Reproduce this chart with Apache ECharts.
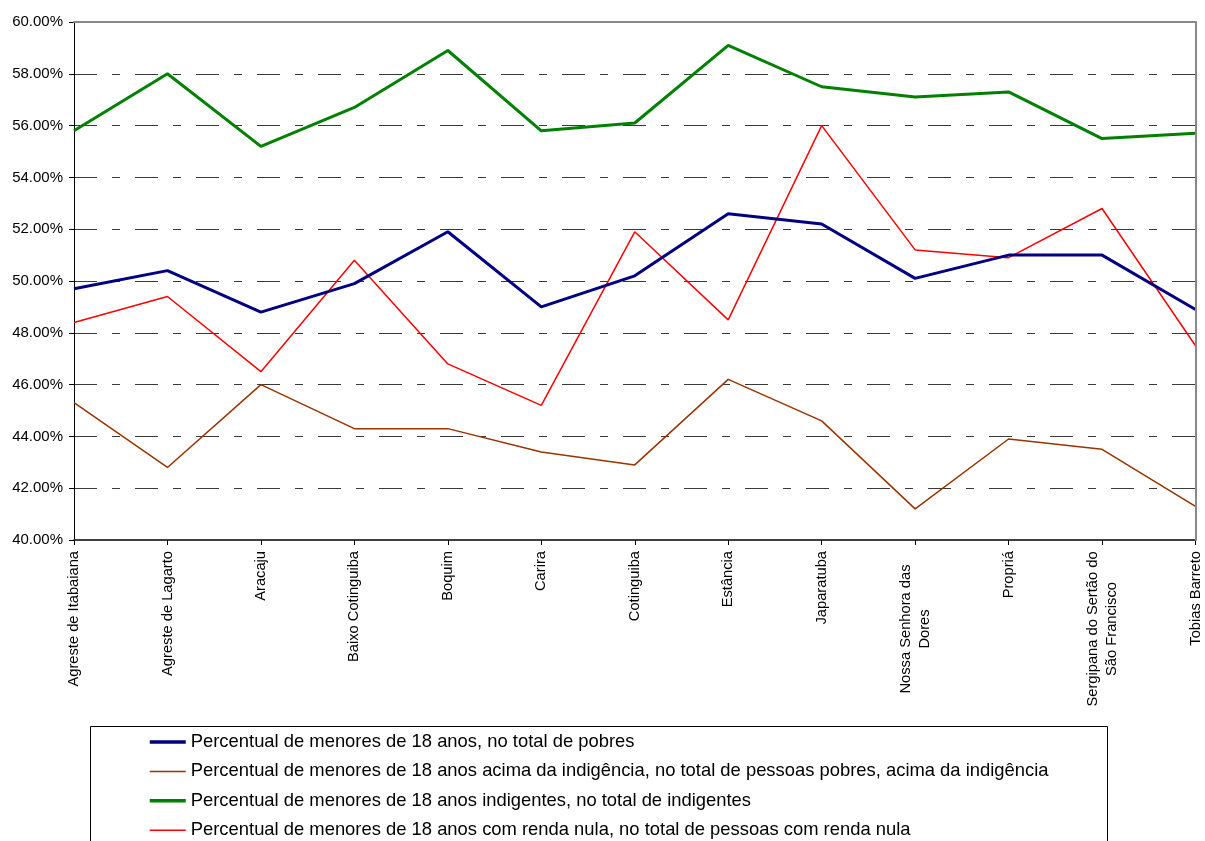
<!DOCTYPE html>
<html>
<head>
<meta charset="utf-8">
<script src="https://cdn.jsdelivr.net/npm/echarts@6/dist/echarts.min.js"></script>
<style>
  html, body { margin: 0; padding: 0; background: #ffffff; }
  #chart { width: 1205px; height: 841px; }
</style>
</head>
<body>
<div id="chart"></div>
<script>
// Territórios de Sergipe
const categories = [
  'Agreste de Itabaiana',
  'Agreste de Lagarto',
  'Aracaju',
  'Baixo Cotinguiba',
  'Boquim',
  'Carira',
  'Cotinguiba',
  'Estância',
  'Japaratuba',
  'Nossa Senhora das\nDores',
  'Propriá',
  'Sergipana do Sertão do\nSão Francisco',
  'Tobias Barreto'
];

// Percentuais (%)
const pobres          = [49.7, 50.4, 48.8, 49.9, 51.9, 49.0, 50.2, 52.6, 52.2, 50.1, 51.0, 51.0, 48.9];
const acimaIndigencia = [45.3, 42.8, 46.0, 44.3, 44.3, 43.4, 42.9, 46.2, 44.6, 41.2, 43.9, 43.5, 41.3];
const indigentes      = [55.8, 58.0, 55.2, 56.7, 58.9, 55.8, 56.1, 59.1, 57.5, 57.1, 57.3, 55.5, 55.7];
const rendaNula       = [48.4, 49.4, 46.5, 50.8, 46.8, 45.2, 51.9, 48.5, 56.0, 51.2, 50.9, 52.8, 47.5];

const seriesNames = [
  'Percentual de menores de 18 anos, no total de pobres',
  'Percentual de menores de 18 anos acima da indigência, no total de pessoas pobres, acima da indigência',
  'Percentual de menores de 18 anos indigentes, no total de indigentes',
  'Percentual de menores de 18 anos com renda nula, no total de pessoas com renda nula'
];
const seriesColors = ['#000080', '#993300', '#008000', '#ff0000'];
const seriesWidths = [3, 1.5, 3, 1.5];

// Eixo Y: 40% a 60%, passo 2%
const yMin = 40, yMax = 60, yStep = 2;

const FONT = '"Liberation Sans", Arial, sans-serif';
const X_FONT_SIZE = 14.7;

// Multi-line category labels: centre each line inside a box as wide as the longest line
const measureCtx = document.createElement('canvas').getContext('2d');
measureCtx.font = X_FONT_SIZE + 'px ' + FONT;
const xLabelRich = {
  c: { fontFamily: FONT, fontSize: X_FONT_SIZE, color: '#000', align: 'center', lineHeight: 19, width: 0 }
};
function xLabelFormatter(value) {
  if (value.indexOf('\n') < 0) return value;
  const lines = value.split('\n');
  const w = Math.ceil(Math.max.apply(null, lines.map(l => measureCtx.measureText(l).width)));
  xLabelRich.c.width = Math.max(xLabelRich.c.width || 0, w);
  return lines.map(l => '{c|' + l + '}').join('\n');
}
// pre-compute the rich box width
categories.forEach(xLabelFormatter);

const seriesData = [pobres, acimaIndigencia, indigentes, rendaNula];

const chart = echarts.init(document.getElementById('chart'), null, { renderer: 'canvas' });

const option = {
  animation: false,
  backgroundColor: '#ffffff',
  grid: { left: 74, right: 6, top: 22, bottom: 301, containLabel: false },
  legend: {
    orient: 'vertical',
    left: 148,
    top: 732,
    itemWidth: 36,
    itemHeight: 14,
    itemGap: 9.4,
    padding: 0,
    selectedMode: false,
    itemStyle: { opacity: 0 },
    textStyle: { fontFamily: FONT, fontSize: 18.4, color: '#000', lineHeight: 20 },
    data: seriesNames.map((name, i) => ({
      name: name,
      lineStyle: { color: seriesColors[i], width: seriesWidths[i] + (seriesWidths[i] > 2 ? 0.5 : 0) }
    }))
  },
  xAxis: [
    {
      type: 'category',
      data: categories,
      boundaryGap: false,
      axisLine: { lineStyle: { color: '#404040', width: 2 } },
      axisTick: { show: true, length: 5, alignWithLabel: true, lineStyle: { color: '#000', width: 1 } },
      axisLabel: {
        interval: 0,
        rotate: 90,
        margin: 11,
        fontFamily: FONT,
        fontSize: X_FONT_SIZE,
        color: '#000',
        lineHeight: 19,
        formatter: xLabelFormatter,
        rich: xLabelRich
      },
      splitLine: { show: false }
    },
    {
      // top frame of the plot area
      type: 'category',
      position: 'top',
      data: categories,
      boundaryGap: false,
      z: 5,
      axisLine: { show: true, lineStyle: { color: '#888888', width: 2 } },
      axisTick: { show: false },
      axisLabel: { show: false },
      splitLine: { show: false }
    }
  ],
  yAxis: [
    {
      type: 'value',
      min: yMin,
      max: yMax,
      interval: yStep,
      axisLine: { show: true, lineStyle: { color: '#000', width: 1 } },
      axisTick: { show: true, length: 5, lineStyle: { color: '#000', width: 1 } },
      axisLabel: {
        margin: 11,
        fontFamily: FONT,
        fontSize: 15,
        color: '#000',
        formatter: v => v.toFixed(2) + '%'
      },
      splitLine: {
        show: true,
        lineStyle: { color: '#3a3a3a', width: 1, type: [23, 15, 8, 15] }
      }
    },
    {
      // right frame of the plot area
      type: 'value',
      position: 'right',
      min: yMin,
      max: yMax,
      interval: yStep,
      z: 5,
      axisLine: { show: true, lineStyle: { color: '#888888', width: 2 } },
      axisTick: { show: false },
      axisLabel: { show: false },
      splitLine: { show: false }
    }
  ],
  graphic: [
    {
      type: 'rect',
      shape: { x: 90.5, y: 726.5, width: 1017, height: 200 },
      style: { fill: 'none', stroke: '#000', lineWidth: 1 },
      silent: true
    }
  ],
  series: seriesNames.map((name, i) => ({
    name: name,
    type: 'line',
    data: seriesData[i],
    symbol: 'none',
    lineStyle: { color: seriesColors[i], width: seriesWidths[i] },
    itemStyle: { color: seriesColors[i] },
    z: seriesWidths[i] > 2 ? 4 : 3
  }))
};

chart.setOption(option);
</script>
</body>
</html>
